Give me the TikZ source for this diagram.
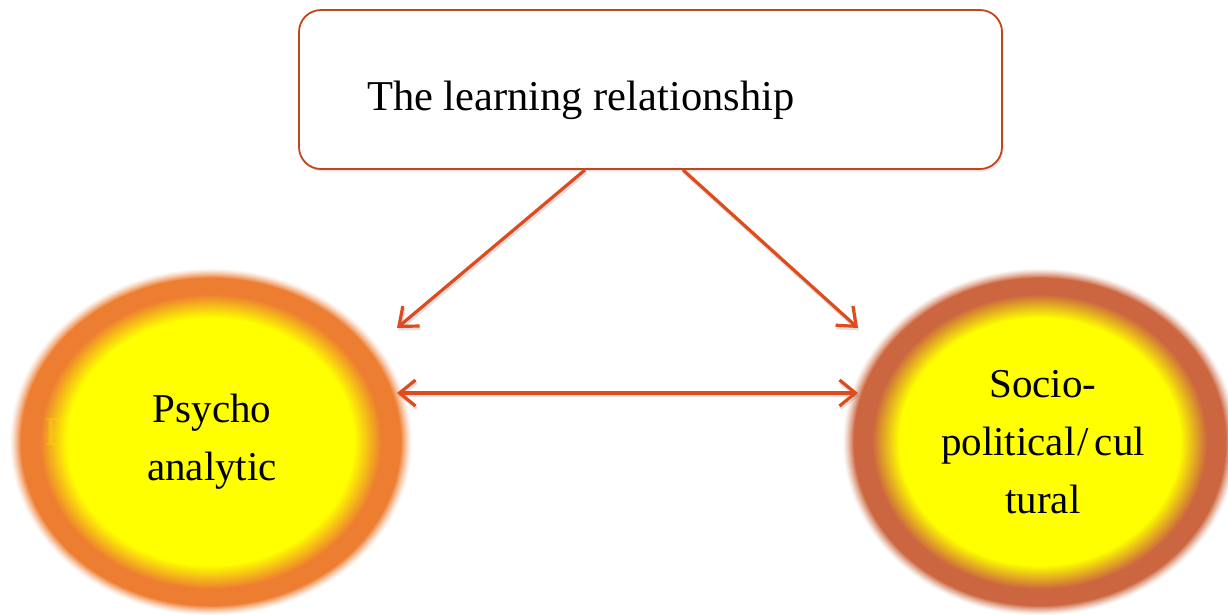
\documentclass[tikz,border=0pt]{standalone}
\usepackage{fontspec}
\setmainfont{Liberation Serif}
\usetikzlibrary{arrows.meta,shapes.geometric,shadows}
\definecolor{lring}{RGB}{237,125,49}
\definecolor{rring}{RGB}{204,102,64}
\definecolor{glowyellow}{RGB}{255,255,0}
\definecolor{boxline}{RGB}{192,70,30}
\definecolor{arrowcol}{RGB}{222,75,28}
% #1 centre, #2 x radius, #3 y radius, #4 ring colour
\newcommand{\glowblob}[4]{%
  \foreach \i in {0,...,12}{%
    \pgfmathsetmacro{\rr}{1.025-0.005*\i}%
    \pgfmathsetmacro{\pp}{100*(\i/12)^1.3}%
    \fill[#4!\pp!white] (#1) ellipse [x radius=#2*\rr, y radius=#3*\rr];
  }%
  \foreach \i in {0,...,35}{%
    \pgfmathsetmacro{\rr}{0.87-0.004*\i}%
    \pgfmathsetmacro{\qq}{100*\i/35}%
    \fill[glowyellow!\qq!#4] (#1) ellipse [x radius=#2*\rr, y radius=#3*\rr];
  }%
}
\tikzset{
  bubble/.style={ellipse, inner sep=0pt, align=center, minimum height=340pt,
    font=\fontsize{41}{58}\selectfont},
  titlebox/.style={draw=boxline, line width=1.8pt, rounded corners=22pt, fill=white,
    minimum width=703pt, minimum height=159pt,
    drop shadow={opacity=0.22, shadow xshift=1.5pt, shadow yshift=-2.5pt}},
  conn/.style={draw=arrowcol, line width=3.2pt,
    preaction={draw=black, opacity=0.12, line width=3.4pt, transform canvas={shift={(1pt,-2.5pt)}}}},
  tip/.tip={Straight Barb[length=16pt,width=26pt]}
}
\begin{document}
\begin{tikzpicture}[x=1pt,y=-1pt]
\useasboundingbox (0,0) rectangle (1228,614);
\fill[white] (0,0) rectangle (1228,614);
% glowing circles
\coordinate (Lc) at (211,442);
\coordinate (Rc) at (1040,442);
\glowblob{Lc}{197pt}{170pt}{lring}
\glowblob{Rc}{193pt}{170pt}{rring}
\node[text=glowyellow!80!orange, opacity=0.3, font=\fontsize{41}{58}\selectfont] (ghost) at (56,432) {P};
\node[bubble, minimum width=394pt] (L) at ([xshift=1pt]Lc) {Psycho\\analytic};
\node[bubble, minimum width=386pt] (R) at ([xshift=3pt]Rc) {Socio-\\political\kern2pt/\kern6pt cul\\tural};
% title box
\node[titlebox] (box) at (650.5,89.5) {};
\node[anchor=base west, font=\fontsize{42.5}{50}\selectfont, inner sep=0pt] (title) at (367,110) {The learning relationship};
% connectors
\coordinate (tL) at (397,328);
\coordinate (tR) at (858,328);
\draw[conn, -tip] ([xshift=-65.5pt]box.south) -- (tL);
\draw[conn, -tip] ([xshift=32.5pt]box.south) -- (tR);
\coordinate (hL) at (397,393);
\coordinate (hR) at (858,393);
\draw[conn, tip-tip] (hL) -- (hR);
\end{tikzpicture}
\end{document}
